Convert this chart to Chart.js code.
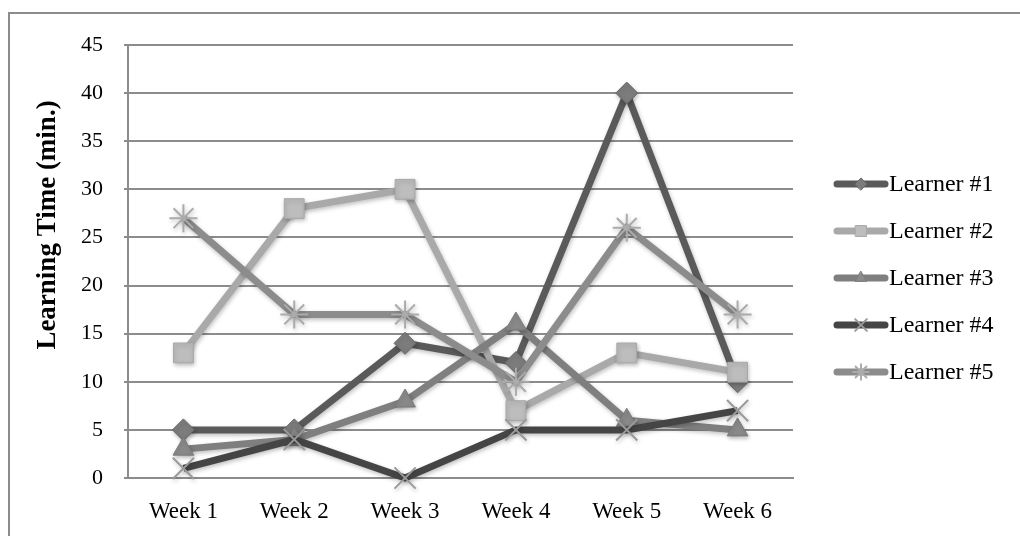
<!DOCTYPE html>
<html>
<head>
<meta charset="utf-8">
<script src="https://cdn.jsdelivr.net/npm/chart.js@4"></script>
<style>
  html, body { margin: 0; padding: 0; background: #fff; }
  #wrap { width: 1020px; height: 536px; }
</style>
</head>
<body>
<div id="wrap"><canvas id="learningChart" width="1020" height="536"></canvas></div>
<script>
// Chart data
const weeks = ['Week 1', 'Week 2', 'Week 3', 'Week 4', 'Week 5', 'Week 6'];
const learnerNames = ['Learner #1', 'Learner #2', 'Learner #3', 'Learner #4', 'Learner #5'];
const learner1 = [5, 5, 14, 12, 40, 10];
const learner2 = [13, 28, 30, 7, 13, 11];
const learner3 = [3, 4, 8, 16, 6, 5];
const learner4 = [1, 4, 0, 5, 5, 7];
const learner5 = [27, 17, 17, 10, 26, 17];
const yTicks = [0, 5, 10, 15, 20, 25, 30, 35, 40, 45];

// Styles per learner
const lineColors = ['#5a5a5a', '#a9a9a9', '#7f7f7f', '#454545', '#8c8c8c'];
const markerFills = ['#7c7c7c', '#bdbdbd', '#8a8a8a', '#444444', '#8c8c8c'];
const markerBorders = ['#666666', '#a8a8a8', '#7a7a7a', '#9a9a9a', '#ababab'];
const markerStyles = ['rectRot', 'rect', 'triangle', 'crossRot', 'star'];
const markerSizes = [11, 14, 12, 15, 14];
const allSeries = [learner1, learner2, learner3, learner4, learner5];

const fontName = "'Liberation Serif', 'Times New Roman', serif";

const datasets = allSeries.map((values, i) => ({
    label: learnerNames[i],
    data: values,
    borderColor: lineColors[i],
    backgroundColor: markerFills[i],
    borderWidth: 7,
    pointStyle: markerStyles[i],
    pointRadius: markerSizes[i],
    pointHoverRadius: markerSizes[i],
    pointBackgroundColor: markerFills[i],
    pointBorderColor: markerBorders[i],
    pointBorderWidth: (i >= 3) ? 2 : 1,
    tension: 0,
    clip: false,
    order: 4 - i
}));

// Outer frame, shadows, y title and the legend
const decorPlugin = {
    id: 'decor',
    beforeDraw(chart) {
        const ctx = chart.ctx;
        ctx.save();
        ctx.strokeStyle = '#8c8c8c';
        ctx.lineWidth = 2;
        ctx.strokeRect(9, 13, 1100, 600);
        ctx.restore();
    },
    beforeDatasetsDraw(chart) {
        const ctx = chart.ctx;
        ctx.save();
        ctx.shadowColor = 'rgba(0,0,0,0.25)';
        ctx.shadowBlur = 4;
        ctx.shadowOffsetX = 1;
        ctx.shadowOffsetY = 2;
    },
    afterDatasetsDraw(chart) {
        chart.ctx.restore();
    },
    afterDraw(chart) {
        const ctx = chart.ctx;
        // y axis title
        ctx.save();
        ctx.translate(48, 225);
        ctx.rotate(-Math.PI / 2);
        ctx.font = "bold 27px " + fontName;
        ctx.fillStyle = '#000';
        ctx.textAlign = 'center';
        ctx.textBaseline = 'middle';
        ctx.fillText('Learning Time (min.)', 0, 0);
        ctx.restore();

        // legend
        chart.data.datasets.forEach((ds, i) => {
            const y = 184 + i * 47;
            ctx.save();
            ctx.strokeStyle = ds.borderColor;
            ctx.lineWidth = 7;
            ctx.lineCap = 'round';
            ctx.beginPath();
            ctx.moveTo(837, y);
            ctx.lineTo(885, y);
            ctx.stroke();
            if (Chart.helpers && Chart.helpers.drawPoint) {
                ctx.fillStyle = ds.pointBackgroundColor;
                ctx.strokeStyle = ds.pointBorderColor;
                ctx.lineWidth = ds.pointBorderWidth;
                Chart.helpers.drawPoint(ctx, {
                    pointStyle: ds.pointStyle,
                    radius: ds.pointRadius * 0.55,
                    rotation: 0,
                    borderWidth: ds.pointBorderWidth
                }, 861, y);
            }
            ctx.font = "24px " + fontName;
            ctx.fillStyle = '#000';
            ctx.textAlign = 'left';
            ctx.textBaseline = 'middle';
            ctx.fillText(ds.label, 889, y + 1);
            ctx.restore();
        });
    }
};

const ctx = document.getElementById('learningChart').getContext('2d');
new Chart(ctx, {
    type: 'line',
    data: {
        labels: weeks,
        datasets: datasets
    },
    options: {
        responsive: false,
        animation: false,
        events: [],
        layout: {
            padding: { left: 0, right: 227, top: 45, bottom: 0 }
        },
        plugins: {
            legend: { display: false },
            tooltip: { enabled: false }
        },
        scales: {
            x: {
                offset: true,
                grid: { display: false, drawTicks: false },
                border: { display: true, color: '#8c8c8c', width: 2 },
                ticks: {
                    color: '#000',
                    padding: 20,
                    font: { family: fontName, size: 23 },
                    maxRotation: 0
                },
                afterFit(scale) { scale.height = 58; }
            },
            y: {
                min: 0,
                max: 45,
                afterBuildTicks(scale) {
                    scale.ticks = yTicks.map(v => ({ value: v }));
                },
                grid: {
                    color: '#8c8c8c',
                    lineWidth: 2,
                    tickLength: 4,
                    tickColor: '#8c8c8c'
                },
                border: { display: true, color: '#8c8c8c', width: 2 },
                ticks: {
                    color: '#000',
                    padding: 21,
                    font: { family: fontName, size: 22 }
                },
                afterFit(scale) { scale.width = 128; }
            }
        }
    },
    plugins: [decorPlugin]
});
</script>
</body>
</html>
